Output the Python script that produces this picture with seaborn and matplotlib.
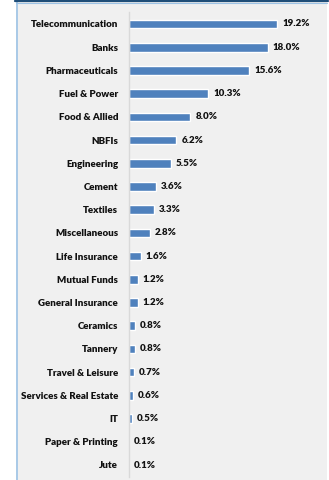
import matplotlib
matplotlib.use("Agg")
import matplotlib.pyplot as plt
import seaborn as sns
import pandas as pd
from matplotlib.patches import Rectangle
from matplotlib.lines import Line2D

sectors = ["Telecommunication", "Banks", "Pharmaceuticals", "Fuel & Power", "Food & Allied",
           "NBFIs", "Engineering", "Cement", "Textiles", "Miscellaneous", "Life Insurance",
           "Mutual Funds", "General Insurance", "Ceramics", "Tannery", "Travel & Leisure",
           "Services & Real Estate", "IT", "Paper & Printing", "Jute"]
shares = [19.2, 18.0, 15.6, 10.3, 8.0, 6.2, 5.5, 3.6, 3.3, 2.8, 1.6, 1.2, 1.2, 0.8, 0.8,
          0.7, 0.6, 0.5, 0.1, 0.1]

df = pd.DataFrame({"sector": sectors, "share": shares})

sns.set_theme(style="white")
plt.rcParams["font.family"] = ["Lato", "DejaVu Sans"]

W, H = 329, 480
fig = plt.figure(figsize=(W / 100, H / 100), dpi=100)
fig.patch.set_facecolor("white")

# panel background and borders
fig.add_artist(Rectangle((16 / W, 0), (327 - 16) / W, 1, transform=fig.transFigure,
                         facecolor="#f0f0f0", edgecolor="none", zorder=0))
fig.add_artist(Line2D([16.5 / W, 16.5 / W], [0, 1 - 2 / H], transform=fig.transFigure,
                      color="#9dc3e6", lw=1.2, zorder=1))
fig.add_artist(Line2D([15 / W, 328 / W], [1 - 0.8 / H, 1 - 0.8 / H], transform=fig.transFigure,
                      color="#1f4e79", lw=1.6, zorder=1))
fig.add_artist(Line2D([16 / W, 327 / W], [1 - 2.6 / H, 1 - 2.6 / H], transform=fig.transFigure,
                      color="#9dc3e6", lw=0.8, zorder=1))

n = len(sectors)
row = (465 - 24) / (n - 1)
top_px = 24 - row / 2
xmax = 23.0
pxper = 7.74
ax = fig.add_axes([128.5 / W, (H - top_px - n * row) / H, xmax * pxper / W, n * row / H])
ax.set_facecolor("none")

sns.barplot(data=df, x="share", y="sector", orient="h", color="#4f81bd", width=0.37,
            saturation=1, ax=ax)
ax.set_xlim(0, xmax)
ax.set_xlabel("")
ax.set_ylabel("")
ax.set_xticks([])
for s in ["top", "right", "bottom"]:
    ax.spines[s].set_visible(False)
ax.spines["left"].set_color("#d9d9d9")
ax.spines["left"].set_linewidth(1.0)
ax.tick_params(axis="y", length=0, pad=7.5)
for lbl in ax.get_yticklabels():
    lbl.set_fontsize(7.0)
    lbl.set_fontweight("heavy")
    lbl.set_color("#111111")

for c in ax.containers:
    ax.bar_label(c, labels=[f"{v:.1f}%" for v in shares], padding=3.5, fontsize=7.0,
                 fontweight="heavy", color="#111111")

fig.savefig("out.png", dpi=100, facecolor="white")
